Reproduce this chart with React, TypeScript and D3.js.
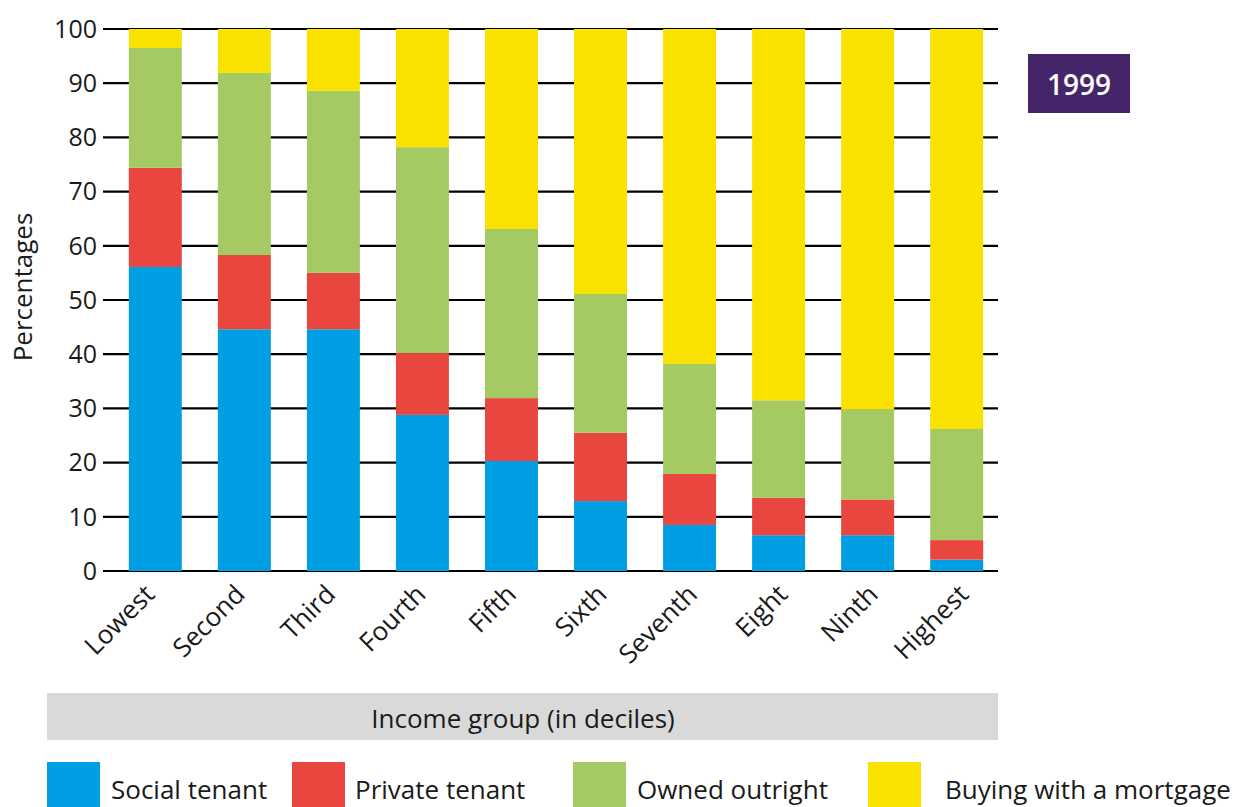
import React from "react";
import * as d3 from "d3";

const categories = ["Lowest", "Second", "Third", "Fourth", "Fifth", "Sixth", "Seventh", "Eight", "Ninth", "Highest"];
const socialTenant = [56.1, 44.6, 44.6, 28.8, 20.3, 12.9, 8.5, 6.6, 6.6, 2.1];
const privateTenant = [18.3, 13.7, 10.4, 11.4, 11.6, 12.6, 9.4, 6.9, 6.6, 3.6];
const ownedOutright = [22.1, 33.6, 33.6, 38.0, 31.2, 25.6, 20.3, 18.0, 16.6, 20.5];
const buyingMortgage = [3.5, 8.1, 11.4, 21.8, 36.9, 48.9, 61.8, 68.5, 70.2, 73.8];
const seriesNames = ["Social tenant", "Private tenant", "Owned outright", "Buying with a mortgage"];
const seriesColors = ["#009fe3", "#e94640", "#a5c963", "#f9e100"];
const yTicks = [0, 10, 20, 30, 40, 50, 60, 70, 80, 90, 100];

const W = 1240, H = 807;
const FONT = "'Open Sans', 'Noto Sans', sans-serif";

export default function App() {
  const left = 103, right = 998, top = 29, bottom = 571;
  const x = d3.scaleBand<string>().domain(categories).range([111, 1001]).paddingInner(0.405).paddingOuter(0.2);
  const xLabel = d3.scalePoint<string>().domain(categories).range([156, 970]);
  const y = d3.scaleLinear().domain([0, 100]).range([bottom, top]);
  const rows = categories.map((c, i) => ({
    cat: c,
    s0: socialTenant[i], s1: privateTenant[i], s2: ownedOutright[i], s3: buyingMortgage[i],
  }));
  const stack = d3.stack<any>().keys(["s0", "s1", "s2", "s3"]);
  const layers = stack(rows);
  const legendX = [47, 292, 573, 868];
  const legendTextX = [111, 355, 637, 945];

  return (
    <svg width={W} height={H} style={{ position: "absolute", left: 0, top: 0 }} fontFamily={FONT}>
      <rect width={W} height={H} fill="#fff" />
      {yTicks.map((t) => (
        <g key={t}>
          <line x1={left} x2={right} y1={y(t)} y2={y(t)} stroke="#000" strokeWidth={2.2} />
          <text x={97} y={y(t)} dy="0.35em" textAnchor="end" fontSize={25} fill="#1a1a1a">{t}</text>
        </g>
      ))}
      {layers.map((layer, li) => (
        <g key={li} fill={seriesColors[li]}>
          {layer.map((d, i) => (
            <rect key={i} x={x(categories[i])} width={x.bandwidth()} y={y(d[1])} height={y(d[0]) - y(d[1])} />
          ))}
        </g>
      ))}
      {categories.map((c) => (
        <text key={c} transform={`translate(${xLabel(c)},${596}) rotate(-45)`} textAnchor="end" fontSize={26} fill="#1a1a1a">{c}</text>
      ))}
      <text transform={`translate(32,287) rotate(-90)`} textAnchor="middle" fontSize={26} fill="#1a1a1a">Percentages</text>
      <rect x={1028} y={54} width={102} height={59} fill="#44256a" />
      <text x={1079} y={85} dy="0.35em" textAnchor="middle" fontSize={28} fontWeight={600} fill="#fff">1999</text>
      <rect x={47} y={693} width={951} height={47} fill="#d9d9d9" />
      <text x={523} y={719} dy="0.35em" textAnchor="middle" fontSize={26} fill="#1a1a1a">Income group (in deciles)</text>
      {seriesNames.map((n, i) => (
        <g key={n}>
          <rect x={legendX[i]} y={762} width={53} height={45} fill={seriesColors[i]} />
          <text x={legendTextX[i]} y={790} dy="0.35em" fontSize={26} fill="#1a1a1a">{n}</text>
        </g>
      ))}
    </svg>
  );
}
